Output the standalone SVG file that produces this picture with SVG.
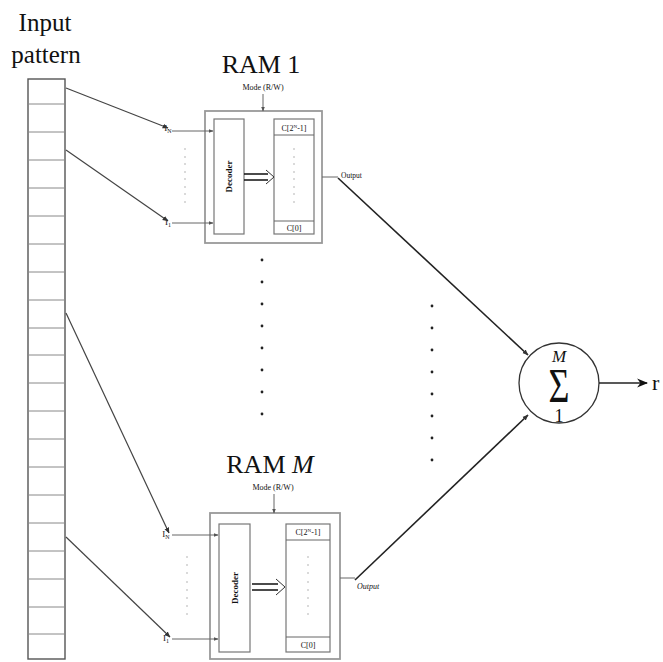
<svg xmlns="http://www.w3.org/2000/svg" width="663" height="662" viewBox="0 0 663 662">
<style>
text{font-family:"Liberation Serif","Times New Roman",serif;fill:#111}
.cell{fill:#fff;stroke:#555;stroke-width:1.4}
.div{stroke:#888;stroke-width:1}
.box{fill:#fff;stroke:#999;stroke-width:1.8}
.inner{fill:#fff;stroke:#777;stroke-width:1.2}
.thin{stroke:#666;stroke-width:1;fill:none}
.wire{stroke:#444;stroke-width:1.2;fill:none}
.bold{stroke:#222;stroke-width:1.6;fill:none}
.dot{fill:#222}
.sdot{fill:#999}
.small{font-size:8px}
.tiny{font-size:9px}
</style>
<defs>
<marker id="ah" viewBox="0 0 10 10" refX="9" refY="5" markerWidth="6" markerHeight="6" orient="auto" markerUnits="userSpaceOnUse"><path d="M0,1 L10,5 L0,9 z" fill="#333"/></marker>
<marker id="ahs" viewBox="0 0 10 10" refX="9" refY="5" markerWidth="5" markerHeight="5" orient="auto" markerUnits="userSpaceOnUse"><path d="M0,1 L10,5 L0,9 z" fill="#555"/></marker>
<marker id="ahb" viewBox="0 0 10 10" refX="9" refY="5" markerWidth="11" markerHeight="11" orient="auto" markerUnits="userSpaceOnUse"><path d="M0,1 L10,5 L0,9 L3,5 z" fill="#111"/></marker>
</defs>
<rect width="663" height="662" fill="#fff"/>

<g id="input-pattern">
<text x="45" y="31" font-size="25" text-anchor="middle">Input</text>
<text x="46" y="63" font-size="25" text-anchor="middle">pattern</text>
<rect class="cell" x="28" y="79" width="37" height="580"/>
<path class="div" d="M28,104H65M28,132H65M28,160H65M28,188H65M28,216H65M28,244H65M28,272H65M28,300H65M28,328H65M28,355H65M28,383H65M28,411H65M28,439H65M28,467H65M28,495H65M28,523H65M28,551H65M28,579H65M28,607H65M28,634H65"/>
</g>

<g id="ram1">
<text x="261" y="73" font-size="26" text-anchor="middle">RAM 1</text>
<text x="263" y="90" class="small" text-anchor="middle">Mode (R/W)</text>
<rect class="box" x="205" y="111" width="117" height="132"/>
<rect class="inner" x="214" y="119" width="30" height="115"/>
<text class="tiny" font-weight="bold" transform="translate(232,176.5) rotate(-90)" text-anchor="middle">Decoder</text>
<rect class="inner" x="274" y="119" width="40" height="115"/>
<path class="thin" d="M274,135H314M274,221H314"/>
<text x="294" y="131" class="small" text-anchor="middle">C[2<tspan font-size="5" dy="-3">N</tspan><tspan dy="3">-1]</tspan></text>
<text x="294" y="231" class="small" text-anchor="middle">C[0]</text>
<g class="sdot"><circle cx="294" cy="149" r="0.7"/><circle cx="294" cy="157" r="0.7"/><circle cx="294" cy="164" r="0.7"/><circle cx="294" cy="172" r="0.7"/><circle cx="294" cy="179" r="0.7"/><circle cx="294" cy="187" r="0.7"/><circle cx="294" cy="194" r="0.7"/><circle cx="294" cy="202" r="0.7"/></g>
<path d="M244,174H268M244,180H268" stroke="#111" stroke-width="1.3"/>
<path d="M266,170L274,177L266,184" stroke="#333" stroke-width="1" fill="none"/>
<text x="168" y="131" class="tiny" text-anchor="middle">I<tspan font-size="6" dy="2">N</tspan></text>
<text x="168" y="225" class="tiny" text-anchor="middle">I<tspan font-size="6" dy="2">1</tspan></text>
<g class="sdot"><circle cx="185" cy="149" r="0.7"/><circle cx="185" cy="157" r="0.7"/><circle cx="185" cy="164" r="0.7"/><circle cx="185" cy="172" r="0.7"/><circle cx="185" cy="179" r="0.7"/><circle cx="185" cy="187" r="0.7"/><circle cx="185" cy="194" r="0.7"/><circle cx="185" cy="202" r="0.7"/></g>
<text x="341" y="178" font-size="7.5">Output</text>
</g>

<g id="ramM">
<text x="270" y="473" font-size="26" text-anchor="middle">RAM <tspan font-style="italic">M</tspan></text>
<text x="273" y="490" class="small" text-anchor="middle">Mode (R/W)</text>
<rect class="box" x="210" y="513" width="130" height="146"/>
<rect class="inner" x="219" y="524" width="31" height="128"/>
<text class="tiny" font-weight="bold" transform="translate(238,588) rotate(-90)" text-anchor="middle">Decoder</text>
<rect class="inner" x="286" y="524" width="44" height="128"/>
<path class="thin" d="M286,540H330M286,637H330"/>
<text x="308" y="535" class="small" text-anchor="middle">C[2<tspan font-size="5" dy="-3">N</tspan><tspan dy="3">-1]</tspan></text>
<text x="308" y="648" class="small" text-anchor="middle">C[0]</text>
<g class="sdot"><circle cx="308" cy="557" r="0.7"/><circle cx="308" cy="565" r="0.7"/><circle cx="308" cy="573" r="0.7"/><circle cx="308" cy="582" r="0.7"/><circle cx="308" cy="590" r="0.7"/><circle cx="308" cy="598" r="0.7"/><circle cx="308" cy="606" r="0.7"/><circle cx="308" cy="614" r="0.7"/></g>
<path d="M252,584H278M252,590H278" stroke="#111" stroke-width="1.3"/>
<path d="M276,579L285,587L276,595" stroke="#333" stroke-width="1" fill="none"/>
<text x="166" y="537" class="tiny" text-anchor="middle">I<tspan font-size="6" dy="2">N</tspan></text>
<text x="166" y="641" class="tiny" text-anchor="middle">I<tspan font-size="6" dy="2">1</tspan></text>
<g class="sdot"><circle cx="187" cy="557" r="0.7"/><circle cx="187" cy="565" r="0.7"/><circle cx="187" cy="573" r="0.7"/><circle cx="187" cy="582" r="0.7"/><circle cx="187" cy="590" r="0.7"/><circle cx="187" cy="598" r="0.7"/><circle cx="187" cy="606" r="0.7"/><circle cx="187" cy="614" r="0.7"/></g>
<text x="357" y="589" font-size="8" font-style="italic">Output</text>
</g>

<g id="sum">
<circle cx="559" cy="383" r="40" fill="#fff" stroke="#333" stroke-width="1.3"/>
<text x="559" y="362" font-size="17" font-style="italic" text-anchor="middle">M</text>
<text font-size="36" text-anchor="middle" transform="translate(559,402) scale(1,1.35)">Σ</text>
<text x="559" y="422" font-size="18" text-anchor="middle">1</text>
<text x="652" y="390" font-size="22">r</text>
</g>

<g id="connectors">
<path class="wire" d="M66,88L168,128" marker-end="url(#ah)"/>
<path class="wire" d="M66,150L168,221" marker-end="url(#ah)"/>
<path class="wire" d="M66,313L169,533" marker-end="url(#ah)"/>
<path class="wire" d="M66,537L170,637" marker-end="url(#ah)"/>
<path class="thin" d="M172,131H213" marker-end="url(#ahs)"/>
<path class="thin" d="M172,223H213" marker-end="url(#ahs)"/>
<path class="thin" d="M172,535H218" marker-end="url(#ahs)"/>
<path class="thin" d="M172,639H218" marker-end="url(#ahs)"/>
<path class="thin" d="M263,94V111" marker-end="url(#ahs)"/>
<path class="thin" d="M274,494V513" marker-end="url(#ahs)"/>
<path class="thin" d="M322,177H338"/>
<path class="thin" d="M340,578H355"/>
<path class="bold" d="M338,178L528,355" marker-end="url(#ah)"/>
<path class="bold" d="M355,580L528,415" marker-end="url(#ah)"/>
<path class="bold" d="M599,383H647" marker-end="url(#ahb)"/>
</g>

<g id="dots">
<g class="dot"><circle cx="262" cy="260" r="1.4"/><circle cx="262" cy="282" r="1.4"/><circle cx="262" cy="304" r="1.4"/><circle cx="262" cy="326" r="1.4"/><circle cx="262" cy="348" r="1.4"/><circle cx="262" cy="370" r="1.4"/><circle cx="262" cy="392" r="1.4"/><circle cx="262" cy="414" r="1.4"/></g>
<g class="dot"><circle cx="432" cy="306" r="1.4"/><circle cx="432" cy="328" r="1.4"/><circle cx="432" cy="350" r="1.4"/><circle cx="432" cy="372" r="1.4"/><circle cx="432" cy="394" r="1.4"/><circle cx="432" cy="416" r="1.4"/><circle cx="432" cy="438" r="1.4"/><circle cx="432" cy="460" r="1.4"/></g>
</g>
</svg>
